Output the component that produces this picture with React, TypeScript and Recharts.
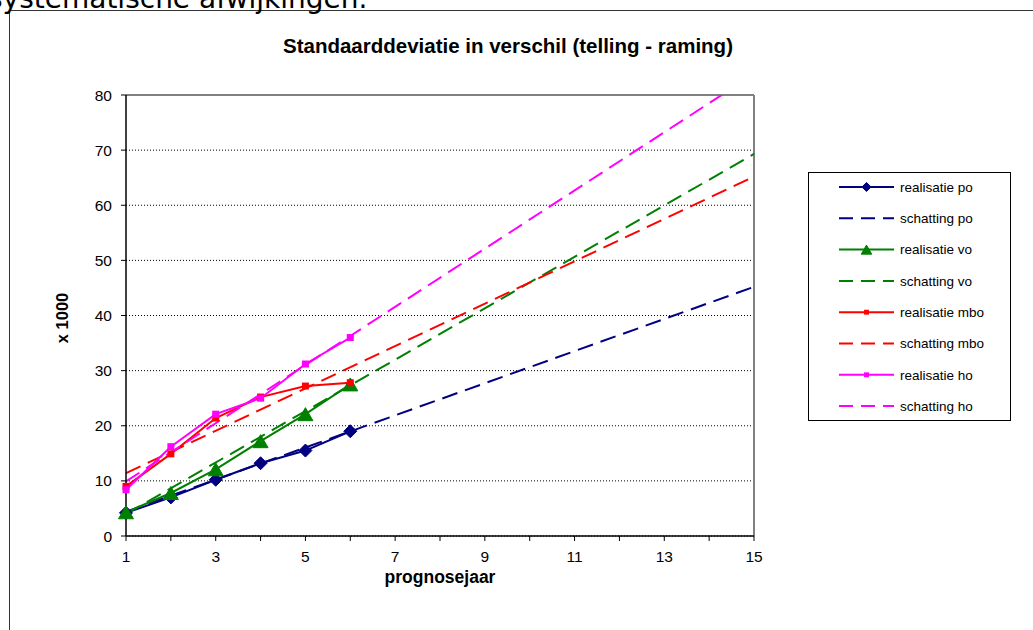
import {
  LineChart,
  Line,
  XAxis,
  YAxis,
  CartesianGrid,
  ReferenceLine,
} from "recharts";

// realisatie: prognosejaar 1..6
const years = [1, 2, 3, 4, 5, 6];
const realisatiePo = [4.2, 7.0, 10.2, 13.2, 15.5, 19.0];
const realisatieVo = [4.3, 7.8, 12.1, 17.2, 22.1, 27.5];
const realisatieMbo = [9.0, 14.9, 21.4, 25.2, 27.2, 27.8];
const realisatieHo = [8.4, 16.2, 22.1, 25.0, 31.2, 36.0];

// schatting: straight trend lines, values at year 1 and year 15
const schattingYears = [1, 15];
const schattingPo = [4.4, 45.2];
const schattingVo = [4.0, 69.3];
const schattingMbo = [11.4, 65.2];
const schattingHo = [9.9, 83.8];

const xTicks = [1, 2, 3, 4, 5, 6, 7, 8, 9, 10, 11, 12, 13, 14, 15];
const yTicks = [0, 10, 20, 30, 40, 50, 60, 70, 80];

const FONT = "'Liberation Sans', Arial, sans-serif";

const toRows = (xs: number[], ys: number[]) =>
  xs.map((x, i) => ({ x, y: ys[i] }));

type Marker = "diamond" | "triangle" | "square" | "none";

type SeriesDef = {
  name: string;
  color: string;
  dashed: boolean;
  marker: Marker;
  data: { x: number; y: number }[];
};

const SERIES: SeriesDef[] = [
  { name: "realisatie po", color: "#000080", dashed: false, marker: "diamond", data: toRows(years, realisatiePo) },
  { name: "schatting po", color: "#000080", dashed: true, marker: "none", data: toRows(schattingYears, schattingPo) },
  { name: "realisatie vo", color: "#008000", dashed: false, marker: "triangle", data: toRows(years, realisatieVo) },
  { name: "schatting vo", color: "#008000", dashed: true, marker: "none", data: toRows(schattingYears, schattingVo) },
  { name: "realisatie mbo", color: "#ff0000", dashed: false, marker: "square", data: toRows(years, realisatieMbo) },
  { name: "schatting mbo", color: "#ff0000", dashed: true, marker: "none", data: toRows(schattingYears, schattingMbo) },
  { name: "realisatie ho", color: "#ff00ff", dashed: false, marker: "square", data: toRows(years, realisatieHo) },
  { name: "schatting ho", color: "#ff00ff", dashed: true, marker: "none", data: toRows(schattingYears, schattingHo) },
];

function drawMarker(kind: Marker, cx: number, cy: number, color: string, scale: number, key?: string) {
  if (kind === "diamond") {
    const r = 6.5 * scale;
    return (
      <polygon
        key={key}
        points={`${cx},${cy - r} ${cx + r},${cy} ${cx},${cy + r} ${cx - r},${cy}`}
        fill={color}
        stroke={color}
      />
    );
  }
  if (kind === "triangle") {
    const w = 7.5 * scale;
    const h = 6.5 * scale;
    return (
      <polygon
        key={key}
        points={`${cx},${cy - h} ${cx + w},${cy + h} ${cx - w},${cy + h}`}
        fill={color}
        stroke={color}
      />
    );
  }
  if (kind === "square") {
    const s = 3.5 * scale;
    return <rect key={key} x={cx - s} y={cy - s} width={s * 2} height={s * 2} fill={color} />;
  }
  return <g key={key} />;
}

function LegendBox() {
  return (
    <svg width={204} height={250}>
      <rect x={0.5} y={0.5} width={202} height={248} fill="#fff" stroke="#000" />
      {SERIES.map((s, i) => {
        const cy = 15 + i * 31.3;
        return (
          <g key={s.name}>
            <line
              x1={31}
              x2={86}
              y1={cy}
              y2={cy}
              stroke={s.color}
              strokeWidth={2}
              strokeDasharray={s.dashed ? "14 8" : undefined}
            />
            {drawMarker(s.marker, 58.5, cy, s.color, 0.7)}
            <text x={92} y={cy} dy="0.35em" fontSize={13.5} fontFamily={FONT} fill="#000">
              {s.name}
            </text>
          </g>
        );
      })}
    </svg>
  );
}

export default function App() {
  return (
    <div
      style={{
        position: "absolute",
        left: 0,
        top: 0,
        width: 1033,
        height: 630,
        overflow: "hidden",
        background: "#fff",
      }}
    >
      <div
        style={{
          position: "absolute",
          left: 9,
          top: 10,
          width: 1100,
          height: 700,
          border: "1px solid #333",
          boxSizing: "border-box",
        }}
      />
      <div style={{ position: "absolute", left: 0, top: 0 }}>
        <LineChart width={1033} height={630} margin={{ top: 95, right: 279, bottom: 64, left: 66 }}>
          <CartesianGrid vertical={false} stroke="#000" strokeDasharray="1 2" />
          <XAxis
            type="number"
            dataKey="x"
            domain={[1, 15]}
            ticks={xTicks}
            interval={0}
            height={30}
            tickSize={5}
            tickMargin={10}
            tickFormatter={(v: number) => (v % 2 === 1 ? String(v) : "")}
            axisLine={{ stroke: "#000", strokeWidth: 1.5 }}
            tickLine={{ stroke: "#000" }}
            tick={{ fill: "#000", fontSize: 15.5, fontFamily: FONT }}
          />
          <YAxis
            type="number"
            domain={[0, 80]}
            ticks={yTicks}
            allowDataOverflow
            width={60}
            tickSize={5}
            tickMargin={9}
            axisLine={{ stroke: "#000", strokeWidth: 1.5 }}
            tickLine={{ stroke: "#000" }}
            tick={{ fill: "#000", fontSize: 15.5, fontFamily: FONT }}
          />
          <ReferenceLine y={80} stroke="#808080" strokeWidth={2} />
          <ReferenceLine x={15} stroke="#808080" strokeWidth={2} />
          {SERIES.map((s) => (
            <Line
              key={s.name}
              data={s.data}
              dataKey="y"
              name={s.name}
              type="linear"
              stroke={s.color}
              strokeWidth={2}
              strokeDasharray={s.dashed ? "16 8" : undefined}
              isAnimationActive={false}
              dot={
                s.marker === "none"
                  ? false
                  : (p: any) => drawMarker(s.marker, p.cx, p.cy, s.color, 1, `${s.name}-${p.index}`)
              }
              activeDot={false}
            />
          ))}
        </LineChart>
      </div>
      <div style={{ position: "absolute", left: 808, top: 172 }}>
        <LegendBox />
      </div>
      <svg
        width={1033}
        height={630}
        style={{ position: "absolute", left: 0, top: 0, pointerEvents: "none" }}
      >
        <text x={-12} y={8} fontSize={28} fontFamily="'DejaVu Sans', Verdana, sans-serif" fill="#000">
          systematische afwijkingen.
        </text>
        <text
          x={508}
          y={53}
          textAnchor="middle"
          fontSize={20.5}
          fontWeight="bold"
          fontFamily={FONT}
          fill="#000"
        >
          Standaarddeviatie in verschil (telling - raming)
        </text>
        <text
          x={440}
          y={583}
          textAnchor="middle"
          fontSize={17.5}
          fontWeight="bold"
          fontFamily={FONT}
          fill="#000"
        >
          prognosejaar
        </text>
        <text
          transform="translate(68,318) rotate(-90)"
          textAnchor="middle"
          fontSize={16.5}
          fontWeight="bold"
          fontFamily={FONT}
          fill="#000"
        >
          x 1000
        </text>
      </svg>
    </div>
  );
}
